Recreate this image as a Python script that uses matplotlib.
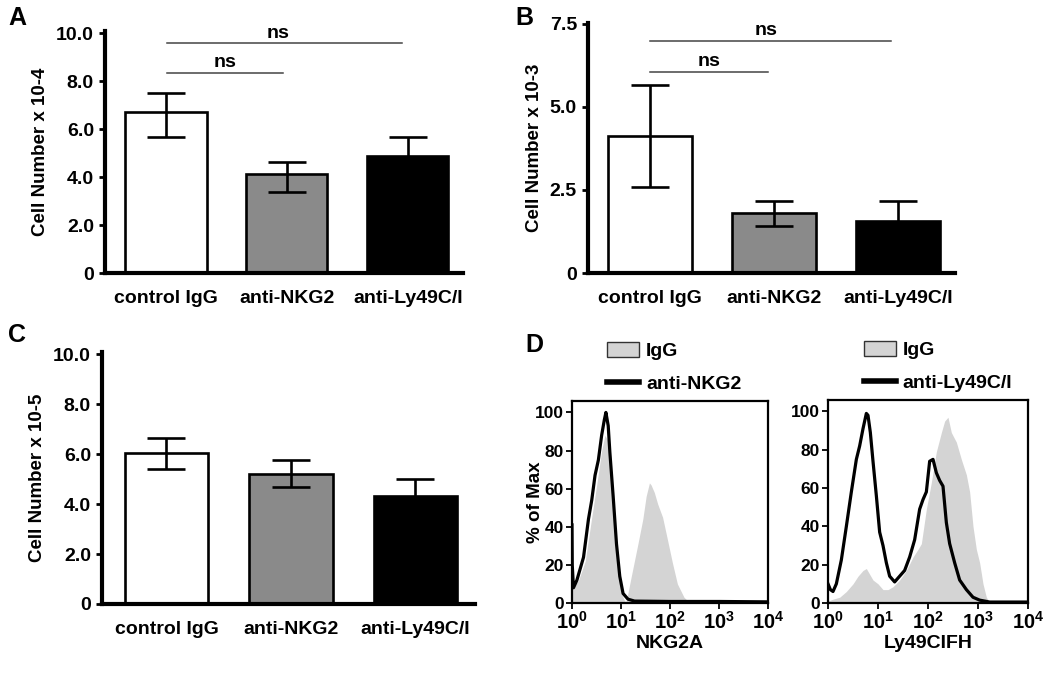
import numpy as np
import matplotlib
matplotlib.use('Agg')
import matplotlib.pyplot as plt
from matplotlib.patches import Patch
from matplotlib.lines import Line2D

plt.rcParams['font.family'] = ['Liberation Sans', 'DejaVu Sans']
plt.rcParams['font.weight'] = 'bold'
plt.rcParams['mathtext.fontset'] = 'custom'
plt.rcParams['mathtext.rm'] = 'Liberation Sans:bold'
plt.rcParams['mathtext.bf'] = 'Liberation Sans:bold'

# ---- data ----
groups = ['control IgG', 'anti-NKG2', 'anti-Ly49C/I']

a_mean = [6.71, 4.14, 4.90]
a_err_lo = [1.04, 0.77, 0.79]
a_err_hi = [0.81, 0.48, 0.79]

b_mean = [4.12, 1.80, 1.58]
b_err_lo = [1.53, 0.38, 0.60]
b_err_hi = [1.53, 0.38, 0.60]

c_mean = [6.04, 5.20, 4.32]
c_err_lo = [0.62, 0.52, 0.70]
c_err_hi = [0.62, 0.58, 0.70]

# NKG2A histograms (x as log10 of fluorescence, y as % of max)
nkg_igg_lx = [0.0, 0.134, 0.27, 0.403, 0.504, 0.605, 0.672, 0.739, 0.793,
              0.874, 0.941, 1.008, 1.076, 1.109, 1.21, 1.345, 1.445, 1.513, 1.58,
              1.613, 1.68, 1.748, 1.849, 1.95, 2.05, 2.151, 2.286, 2.387, 4.0]
nkg_igg_y = [8, 12, 22, 45, 62, 80, 88, 85, 72,
             45, 20, 5, 1, 1, 14, 31, 44, 56, 63,
             62, 58, 52, 45, 33, 21, 10, 3, 0.5, 0]
nkg_anti_lx = [0.0, 0.005, 0.03, 0.1, 0.235, 0.336, 0.403, 0.47, 0.538, 0.605,
               0.659, 0.692, 0.739, 0.773, 0.84, 0.908, 0.975, 1.042, 1.143, 1.277,
               2.0, 3.0, 4.0]
nkg_anti_y = [41, 20, 8, 12, 24, 44, 54, 67, 75, 88,
              96, 100, 93, 79, 56, 31, 14, 5, 2, 1,
              0.8, 0.8, 0.6]

# Ly49CIFH histograms
ly_igg_lx = [0.0, 0.1, 0.233, 0.367, 0.5, 0.6, 0.7, 0.767, 0.833, 0.9,
             1.0, 1.1, 1.2, 1.3, 1.433, 1.567, 1.7, 1.8, 1.867, 1.967,
             2.067, 2.167, 2.267, 2.333, 2.4, 2.467, 2.567, 2.667, 2.767, 2.833,
             2.9, 2.967, 3.033, 3.1, 3.167, 3.233, 4.0]
ly_igg_y = [1, 2, 3, 6, 10, 14, 17, 18, 15, 12,
            10, 7, 7, 8.5, 12, 17, 24, 28, 31, 49,
            63, 79, 89, 95, 97, 89, 84, 75, 67, 58,
            40, 28, 21, 10, 3, 0.5, 0]
ly_anti_lx = [0.0, 0.047, 0.1, 0.167, 0.267, 0.367, 0.467, 0.567, 0.633, 0.7,
              0.767, 0.8, 0.847, 0.9, 0.967, 1.033, 1.1, 1.167, 1.233, 1.333,
              1.433, 1.533, 1.633, 1.733, 1.833, 1.9, 1.967, 2.033, 2.1, 2.167,
              2.233, 2.3, 2.367, 2.433, 2.533, 2.633, 2.767, 2.9, 3.033, 3.233, 4.0]
ly_anti_y = [10, 7, 6, 10, 22.5, 40, 58, 75, 82, 91,
             99, 98, 89, 74, 56, 37, 30, 21, 14, 11,
             14, 17, 24, 33, 49, 54, 58, 74, 75, 68,
             64, 61, 42, 31, 21, 12, 7, 3, 1.5, 0.5, 0.5]

bar_colors = ['white', '#8a8a8a', 'black']
W, H = 1050, 678


def px_axes(fig, x0, y_top, x1, y_bot):
    return fig.add_axes([x0 / W, 1 - y_bot / H, (x1 - x0) / W, (y_bot - y_top) / H])


def bar_panel(ax, means, lo, hi, ymax, ticks, ticklabels, ylabel, xlim):
    x = np.arange(len(groups))
    ax.bar(x, means, width=0.67, color=bar_colors, edgecolor='black',
           linewidth=1.9, zorder=2)
    ax.errorbar(x, means, yerr=[lo, hi], fmt='none', ecolor='black',
                elinewidth=1.9, capsize=14, capthick=1.9, zorder=3)
    ax.set_xlim(*xlim)
    ax.set_ylim(0, ymax)
    ax.set_xticks(x)
    ax.set_xticklabels(groups, fontsize=14, fontweight='bold')
    ax.set_yticks(ticks)
    ax.set_yticklabels(ticklabels, fontsize=14, fontweight='bold')
    ax.tick_params(axis='x', length=0, pad=12)
    ax.tick_params(axis='y', length=4, width=2, pad=4)
    ax.set_ylabel(ylabel, fontsize=13.5, fontweight='bold', labelpad=5)
    for s in ['top', 'right']:
        ax.spines[s].set_visible(False)
    for s in ['left', 'bottom']:
        ax.spines[s].set_linewidth(3)


def ns_bar(ax, x0, x1, y, label_x):
    ax.plot([x0, x1], [y, y], color='#444444', linewidth=1.1, clip_on=False)
    ax.text(label_x, y + 0.08 * (ax.get_ylim()[1] / 10), 'ns', ha='center', va='bottom',
            fontsize=14, fontweight='bold')


fig = plt.figure(figsize=(10.5, 6.78), dpi=100)

# A
axA = px_axes(fig, 105, 31, 463, 273)
bar_panel(axA, a_mean, a_err_lo, a_err_hi, 10.1,
          [0, 2, 4, 6, 8, 10], ['0', '2.0', '4.0', '6.0', '8.0', '10.0'],
          'Cell Number x 10-4', (-0.504, 2.455))
ns_bar(axA, 0.008, 0.967, 8.35, 0.49)
ns_bar(axA, 0.008, 1.95, 9.58, 0.93)

# B
axB = px_axes(fig, 588, 23, 955, 273)
bar_panel(axB, b_mean, b_err_lo, b_err_hi, 7.53,
          [0, 2.5, 5.0, 7.5], ['0', '2.5', '5.0', '7.5'],
          'Cell Number x 10-3', (-0.5, 2.46))
ns_bar(axB, 0.0, 0.95, 6.06, 0.48)
ns_bar(axB, 0.0, 1.94, 6.98, 0.94)

# C
axC = px_axes(fig, 102, 352, 475, 604)
bar_panel(axC, c_mean, c_err_lo, c_err_hi, 10.1,
          [0, 2, 4, 6, 8, 10], ['0', '2.0', '4.0', '6.0', '8.0', '10.0'],
          'Cell Number x 10-5', (-0.518, 2.478))


# D
def hist_panel(ax, igg_lx, igg_y, anti_lx, anti_y, xlabel):
    ax.fill_between(10 ** np.array(igg_lx), igg_y, 0, color='#d4d4d4', linewidth=0, zorder=1)
    ax.plot(10 ** np.array(anti_lx), anti_y, color='black', linewidth=2.3, zorder=2)
    ax.set_xscale('log')
    ax.set_xlim(1, 1e4)
    ax.set_ylim(0, 106)
    ax.set_yticks([0, 20, 40, 60, 80, 100])
    ax.set_yticklabels(['0', '20', '40', '60', '80', '100'], fontsize=12.5, fontweight='bold')
    ax.set_xticks([1, 10, 100, 1000, 10000])
    ax.set_xticklabels([r'$10^{%d}$' % i for i in range(5)], fontsize=14.5)
    ax.tick_params(axis='both', which='major', length=4, width=1.3, pad=2)
    ax.tick_params(axis='x', which='minor', length=2.5, width=1)
    ax.set_xlabel(xlabel, fontsize=14, fontweight='bold', labelpad=1)
    for s in ax.spines.values():
        s.set_linewidth(1.6)


axD1 = px_axes(fig, 572, 401, 768, 603)
hist_panel(axD1, nkg_igg_lx, nkg_igg_y, nkg_anti_lx, nkg_anti_y, 'NKG2A')
axD1.set_ylabel('% of Max', fontsize=13.5, fontweight='bold', labelpad=-7)

axD2 = px_axes(fig, 828, 400, 1028, 603)
hist_panel(axD2, ly_igg_lx, ly_igg_y, ly_anti_lx, ly_anti_y, 'Ly49CIFH')

for ax, lab in [(axD1, 'anti-NKG2'), (axD2, 'anti-Ly49C/I')]:
    handles = [Patch(facecolor='#d4d4d4', edgecolor='#333333', linewidth=1),
               Line2D([0], [0], color='black', linewidth=4)]
    ax.legend(handles, ['IgG', lab], loc='lower left', bbox_to_anchor=(0.14, 1.0),
              frameon=False, fontsize=14, handlelength=1.65, handleheight=0.8,
              handletextpad=0.35, labelspacing=0.75, borderpad=0.1, borderaxespad=0.3)

# panel letters
for x, y, t in [(8, 18, 'A'), (515, 18, 'B'), (8, 335, 'C'), (525, 345, 'D')]:
    fig.text(x / W, 1 - y / H, t, fontsize=18, fontweight='bold', va='center', ha='left')

fig.savefig('out.png', dpi=100)
